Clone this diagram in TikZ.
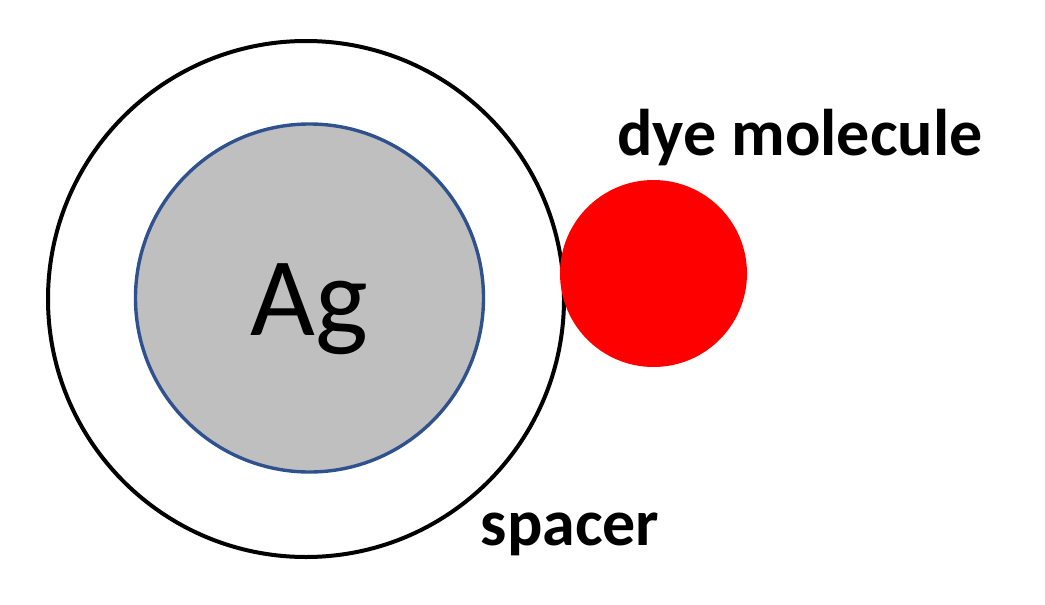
\documentclass[tikz,border=0pt]{standalone}
\usepackage{fontspec}
\setmainfont{Carlito}
\definecolor{agfill}{HTML}{BFBFBF}
\definecolor{agline}{HTML}{2F528F}
\definecolor{dyered}{HTML}{FF0000}
\begin{document}
\begin{tikzpicture}[x=1pt,y=-1pt,
  shell/.style={circle,draw=black,line width=4pt,inner sep=0pt},
  core/.style={circle,draw=agline,fill=agfill,line width=3.4pt,inner sep=0pt},
  dye/.style={circle,fill=dyered,inner sep=0pt},
  lbl/.style={inner sep=0pt,anchor=base,font=\fontsize{66}{70}\selectfont\bfseries}]
\useasboundingbox (0,0) rectangle (1045,605);
\node[shell,minimum size=516pt] (spacer) at (306,299) {};
\node[core,minimum size=348pt] (ag) at (309.5,298) {};
\node[inner sep=0pt,anchor=base,font=\fontsize{112}{118}\selectfont] (agtxt) at (309,335) {Ag};
\node[dye,minimum size=187pt] (mol) at (653.5,273.5) {};
\node[lbl] (moltxt) at (800,155) {dye molecule};
\node[lbl] (spctxt) at (570,545) {spacer};
\end{tikzpicture}
\end{document}
